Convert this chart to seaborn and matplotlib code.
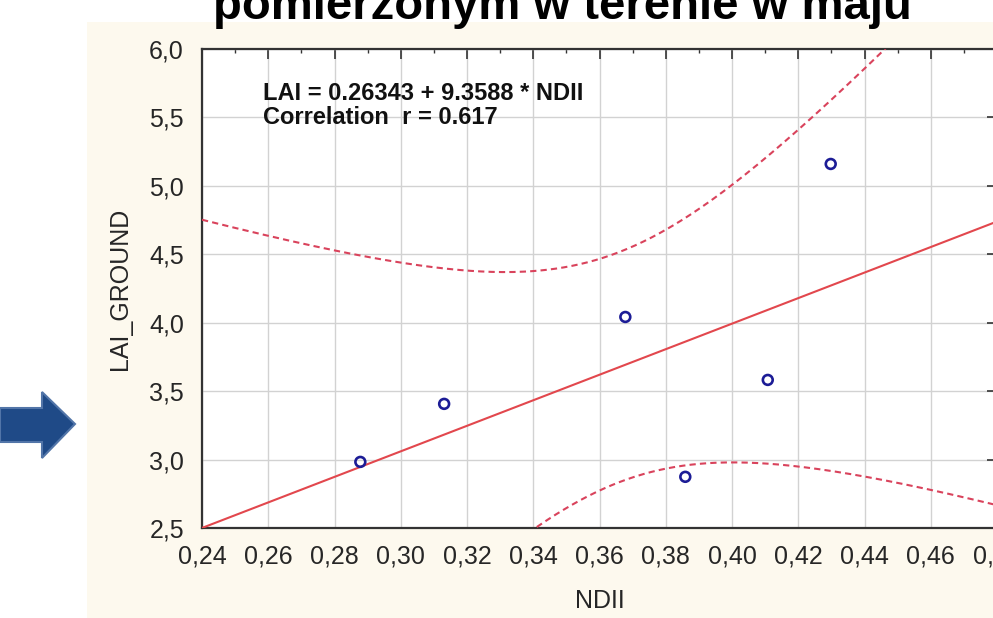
import numpy as np
import pandas as pd
import matplotlib
matplotlib.use('Agg')
import matplotlib.pyplot as plt
from matplotlib.patches import Rectangle, Polygon
from matplotlib.ticker import MultipleLocator, FuncFormatter
import seaborn as sns

# data
ndii = [0.2878, 0.3131, 0.3678, 0.3859, 0.4108, 0.4298]
lai_ground = [2.983, 3.407, 4.042, 2.874, 3.582, 5.160]
eq_text = 'LAI = 0.26343 + 9.3588 * NDII'
r_text = 'Correlation  r = 0.617'
title = 'pomierzonym w terenie w maju'

df = pd.DataFrame({'NDII': ndii, 'LAI_GROUND': lai_ground})

sns.set_style('white')
plt.rcParams['font.family'] = ['Liberation Sans', 'DejaVu Sans']

W, H = 993, 618
fig = plt.figure(figsize=(W / 100, H / 100), dpi=100)
fig.patch.set_facecolor('white')

# beige panel behind the chart
fig.patches.append(Rectangle((87 / W, 0), (W - 87) / W, (H - 22) / H,
                             transform=fig.transFigure, facecolor='#FDF9EE',
                             edgecolor='none', zorder=-10))

# blue arrow at left
pts = [(0, 408), (42, 408), (42, 392), (75, 424), (42, 458), (42, 442), (0, 442)]
fig.patches.append(Polygon([(x / W, 1 - y / H) for x, y in pts], closed=True,
                           transform=fig.transFigure, facecolor='#1F4A87',
                           edgecolor='#5275A8', linewidth=1.5, zorder=-5))

fig.text(562 / W, 1 - 19 / H, title, ha='center', va='baseline',
         fontsize=34, fontweight='bold', color='black')

ax = fig.add_axes([202 / W, 90 / H, 795 / W, 479 / H])
ax.set_facecolor('white')
ax.set_xlim(0.24, 0.48)
ax.set_ylim(2.5, 6.0)

# regression line + 95% confidence band
x = np.array(ndii)
y = np.array(lai_ground)
n = len(x)
b1, b0 = np.polyfit(x, y, 1)
resid = y - (b0 + b1 * x)
s = np.sqrt(np.sum(resid ** 2) / (n - 2))
sxx = np.sum((x - x.mean()) ** 2)
t = 2.776  # t(0.975, 4)
xs = np.linspace(0.24, 0.48, 300)
fit = b0 + b1 * xs
hw = t * s * np.sqrt(1 / n + (xs - x.mean()) ** 2 / sxx)

sns.regplot(data=df, x='NDII', y='LAI_GROUND', scatter=False, ci=None,
            truncate=False, ax=ax, line_kws=dict(color='#E2474D', lw=1.5, zorder=3))
ax.plot(xs, fit + hw, ls=(0, (3, 2)), color='#D9435C', lw=1.5, zorder=3)
ax.plot(xs, fit - hw, ls=(0, (3, 2)), color='#D9435C', lw=1.5, zorder=3)

sns.scatterplot(data=df, x='NDII', y='LAI_GROUND', ax=ax, marker='o', s=50,
                facecolors='none', edgecolor='#1C1C96', linewidth=1.9, zorder=5)

ax.set_xlim(0.24, 0.48)
ax.set_ylim(2.5, 6.0)

ax.xaxis.set_major_locator(MultipleLocator(0.02))
ax.xaxis.set_minor_locator(MultipleLocator(0.01))
ax.yaxis.set_major_locator(MultipleLocator(0.5))
ax.yaxis.set_minor_locator(MultipleLocator(0.1))
ax.xaxis.set_major_formatter(FuncFormatter(lambda v, p: f'{v:.2f}'.replace('.', ',')))
ax.yaxis.set_major_formatter(FuncFormatter(lambda v, p: f'{v:.1f}'.replace('.', ',')))

ax.grid(True, which='major', color='#D2D2D2', lw=1.0)
ax.tick_params(which='both', direction='in', top=True, right=True,
               colors='#333333', labelcolor='#262626', labelsize=18)
ax.tick_params(which='major', length=7, width=1.2)
ax.tick_params(which='minor', length=3, width=1.0)
ax.tick_params(axis='x', pad=12)
ax.tick_params(axis='y', pad=13)
for sp in ax.spines.values():
    sp.set_color('#333333')
    sp.set_linewidth(1.6)

ax.set_xlabel('NDII', fontsize=18, color='#262626', labelpad=15)
ax.set_ylabel('LAI_GROUND', fontsize=18, color='#262626', labelpad=12)

ax.text(263 / W, 1 - 100 / H, eq_text, transform=fig.transFigure,
        fontsize=17, fontweight='bold', color='#111111', va='baseline')
ax.text(263 / W, 1 - 124 / H, r_text, transform=fig.transFigure,
        fontsize=17, fontweight='bold', color='#111111', va='baseline')

fig.savefig('out.png', dpi=100)
